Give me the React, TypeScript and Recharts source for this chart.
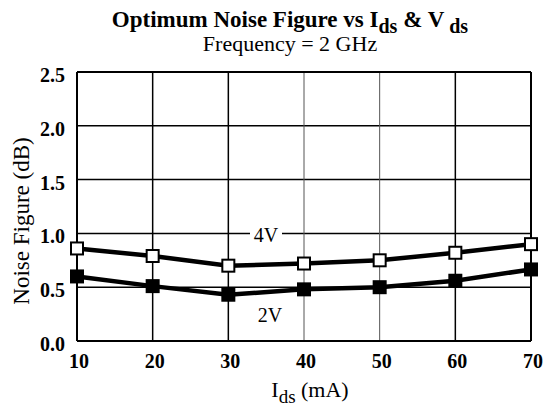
import React from 'react';
import { LineChart, Line, XAxis, YAxis, CartesianGrid, ReferenceLine } from 'recharts';

const idsValues = [10, 20, 30, 40, 50, 60, 70];
const nf4V = [0.86, 0.79, 0.7, 0.72, 0.75, 0.82, 0.9];
const nf2V = [0.6, 0.51, 0.43, 0.48, 0.5, 0.56, 0.665];
const yTicks = [0, 0.5, 1, 1.5, 2, 2.5];

const data = idsValues.map((ids, i) => ({ ids, v4: nf4V[i], v2: nf2V[i] }));

const serif = '"Liberation Serif", "DejaVu Serif", serif';

const squareDot = (fill: string) => (props: any) => {
  const { cx, cy, index } = props;
  if (cx == null || cy == null) return <g key={index} />;
  return (
    <rect key={index} x={cx - 6} y={cy - 6} width={12} height={12} fill={fill} stroke="#000" strokeWidth={2} />
  );
};

const YTick = (props: any) => {
  const { x, y, payload } = props;
  return (
    <text x={x} y={y + 10} textAnchor="end" fontFamily={serif} fontWeight="bold" fontSize={20} fill="#000">
      {Number(payload.value).toFixed(1)}
    </text>
  );
};

const XTick = (props: any) => {
  const { x, y, payload } = props;
  return (
    <text x={x + 2} y={y + 15} textAnchor="middle" fontFamily={serif} fontWeight="bold" fontSize={20} fill="#000">
      {payload.value}
    </text>
  );
};

const App = () => {
  return (
    <div style={{ position: 'absolute', left: 0, top: 0, width: 543, height: 407, background: '#fff' }}>
      <LineChart width={543} height={407} data={data} margin={{ top: 72, right: 12, bottom: 36, left: 0 }}>
        <CartesianGrid vertical={false} stroke="#000" strokeWidth={1.5} strokeDasharray="" />
        {idsValues.slice(1, -1).map((x) => (
          <ReferenceLine
            key={x}
            x={x}
            stroke={x === 40 || x === 50 ? '#555' : '#000'}
            strokeWidth={x === 40 || x === 50 ? 1 : 1.5}
          />
        ))}
        <ReferenceLine y={2.5} stroke="#000" strokeWidth={2} />
        <ReferenceLine x={70} stroke="#000" strokeWidth={2} />
        <XAxis
          dataKey="ids"
          type="number"
          domain={[10, 70]}
          ticks={idsValues}
          tickLine={false}
          tickMargin={6}
          axisLine={{ stroke: '#000', strokeWidth: 2 }}
          tick={<XTick />}
          interval={0}
        />
        <YAxis
          type="number"
          domain={[0, 2.5]}
          ticks={yTicks}
          width={77}
          tickLine={false}
          tickMargin={6}
          axisLine={{ stroke: '#000', strokeWidth: 2 }}
          tick={<YTick />}
          interval={0}
        />
        <Line
          dataKey="v4"
          type="linear"
          stroke="#000"
          strokeWidth={4.5}
          dot={squareDot('#fff')}
          activeDot={false}
          isAnimationActive={false}
        />
        <Line
          dataKey="v2"
          type="linear"
          stroke="#000"
          strokeWidth={4.5}
          dot={squareDot('#000')}
          activeDot={false}
          isAnimationActive={false}
        />
      </LineChart>
      <svg
        width={543}
        height={407}
        style={{ position: 'absolute', left: 0, top: 0, pointerEvents: 'none' }}
        fontFamily={serif}
      >
        <text x={290} y={27} textAnchor="middle" fontSize={23} fontWeight="bold" fill="#000">
          Optimum Noise Figure vs I
          <tspan dy={6} fontSize={20}>ds</tspan>
          <tspan dy={-6}> &amp; V</tspan>
          <tspan dy={6} fontSize={20}> ds</tspan>
        </text>
        <text x={290} y={51} textAnchor="middle" fontSize={22} fill="#000">
          Frequency = 2 GHz
        </text>
        <text x={29} y={221} textAnchor="middle" fontSize={23} fill="#000" transform="rotate(-90, 29, 221)">
          Noise Figure (dB)
        </text>
        <text x={310} y={397} textAnchor="middle" fontSize={22} fill="#000">
          I<tspan dy={6} fontSize={19}>ds</tspan>
          <tspan dy={-6}> (mA)</tspan>
        </text>
        <rect x={250} y={226} width={32} height={18} fill="#fff" />
        <text x={266} y={242} textAnchor="middle" fontSize={20} fill="#000">
          4V
        </text>
        <text x={270} y={322} textAnchor="middle" fontSize={20} fill="#000">
          2V
        </text>
      </svg>
    </div>
  );
};

export default App;
